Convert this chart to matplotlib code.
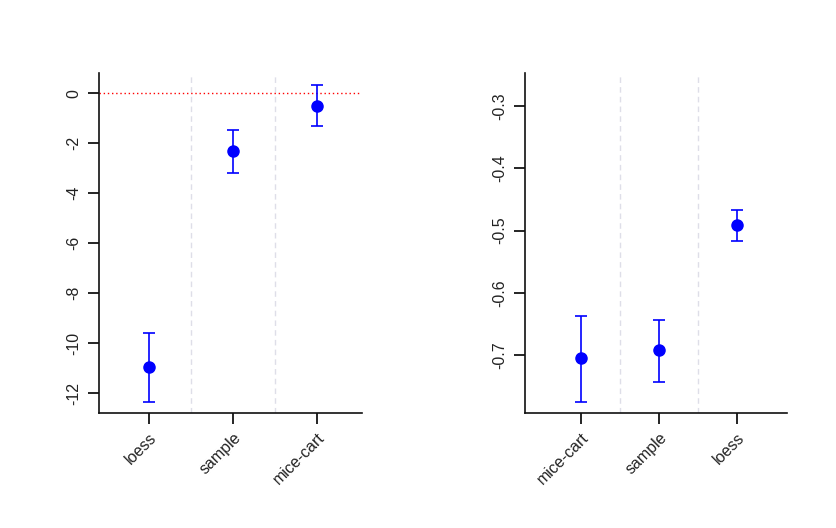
import matplotlib
matplotlib.use("Agg")
import matplotlib.pyplot as plt

plt.rcParams['font.family'] = ['Liberation Sans', 'DejaVu Sans']

# Left panel data
left_methods = ["loess", "sample", "mice-cart"]
left_est = [-10.93, -2.31, -0.49]
left_lo = [-12.33, -3.20, -1.31]
left_hi = [-9.60, -1.47, 0.35]
left_yticks = [0, -2, -4, -6, -8, -10, -12]

# Right panel data
right_methods = ["mice-cart", "sample", "loess"]
right_est = [-0.705, -0.692, -0.491]
right_lo = [-0.775, -0.743, -0.517]
right_hi = [-0.638, -0.643, -0.467]
right_yticks = [-0.3, -0.4, -0.5, -0.6, -0.7]

fig = plt.figure(figsize=(8.37, 5.28), dpi=100)
fig.patch.set_facecolor("white")

def panel(rect, methods, est, lo, hi, yticks, xlim, ylim, refline=None):
    ax = fig.add_axes(rect)
    x = list(range(1, len(methods) + 1))
    yerr = [[e - l for e, l in zip(est, lo)], [h - e for e, h in zip(est, hi)]]
    for xv in [1.5, 2.5]:
        ax.axvline(xv, color="#dedee8", lw=1.0, ls=(0, (4, 3)), zorder=1)
    if refline is not None:
        ax.axhline(refline, color="red", lw=1.0, ls=(0, (1, 2)), zorder=1)
    ax.errorbar(x, est, yerr=yerr, fmt="o", color="blue", ecolor="blue",
                markersize=8, elinewidth=1.2, capsize=4, capthick=1.2, zorder=3)
    ax.set_xlim(*xlim)
    ax.set_ylim(*ylim)
    ax.set_xticks(x)
    ax.set_xticklabels(methods, rotation=45, ha="right", rotation_mode="anchor",
                       fontsize=11.5, color="#222222")
    ax.set_yticks(yticks)
    ax.set_yticklabels([("%g" % t) for t in yticks], rotation=90, va="center",
                       fontsize=11.5, color="#222222")
    ax.tick_params(axis="x", length=8, width=1.2, pad=4)
    ax.tick_params(axis="y", length=8, width=1.2, pad=5)
    for s in ["top", "right"]:
        ax.spines[s].set_visible(False)
    for s in ["left", "bottom"]:
        ax.spines[s].set_linewidth(1.2)
        ax.spines[s].set_color("#111111")
    return ax

panel([99/837, 1-413/528, 263/837, 340/528], left_methods, left_est, left_lo,
      left_hi, left_yticks, (0.4, 3.54), (-12.79, 0.81), refline=0)
panel([525/837, 1-413/528, 262/837, 340/528], right_methods, right_est, right_lo,
      right_hi, right_yticks, (0.284, 3.64), (-0.793, -0.247))

fig.savefig("out.png", dpi=100)
